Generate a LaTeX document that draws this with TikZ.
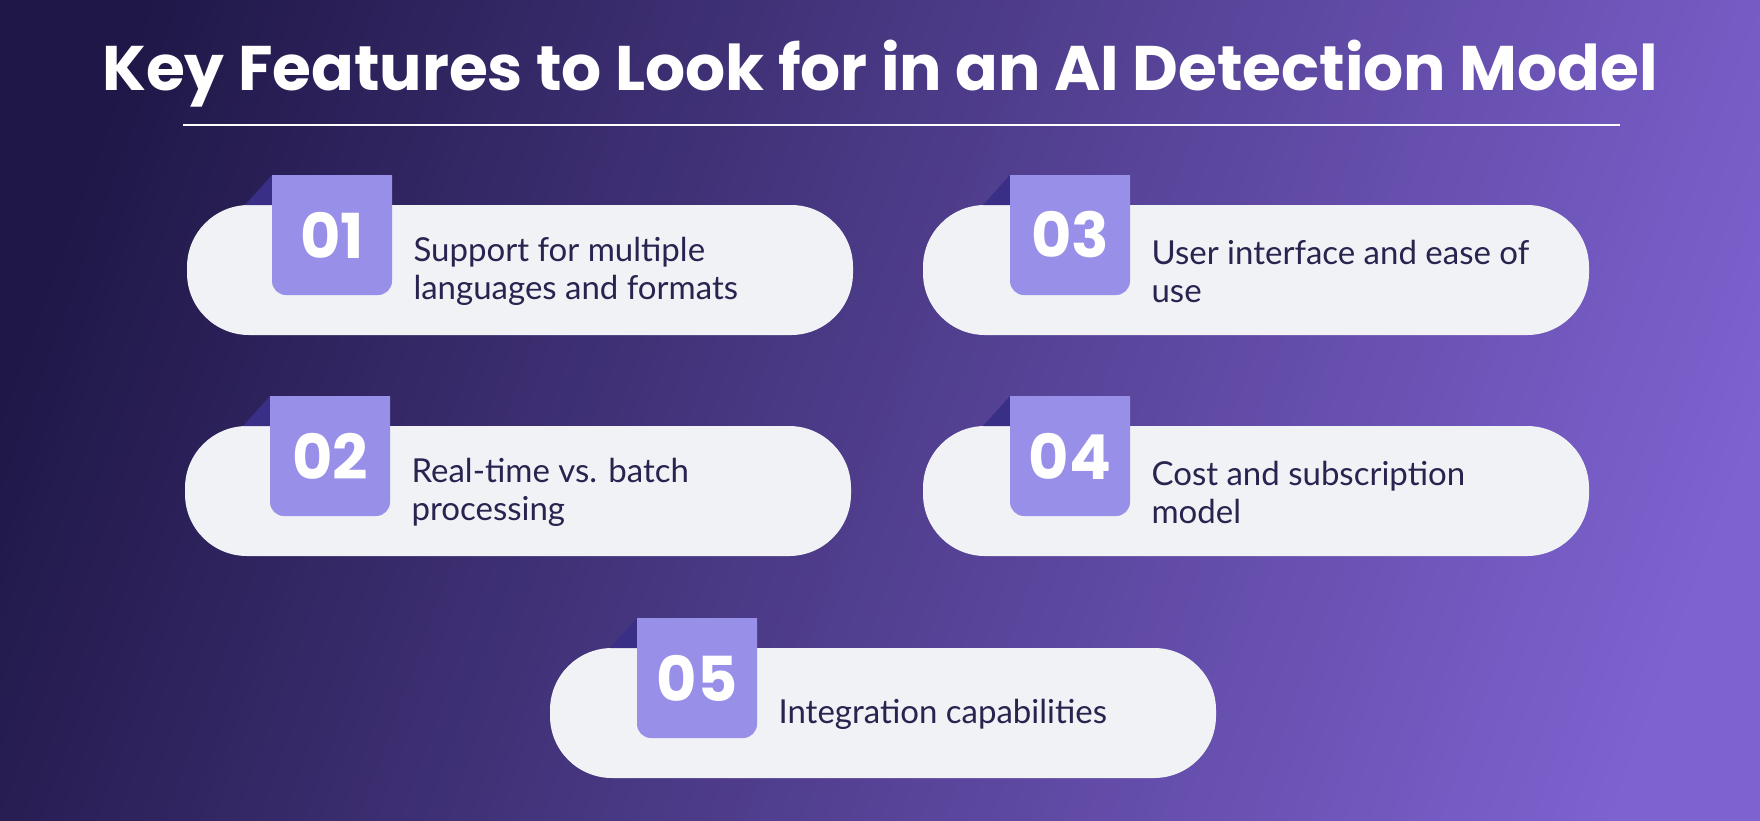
\documentclass[tikz,border=0pt]{standalone}
\usepackage{fontspec}
\setmainfont{Poppins}
\newfontfamily\bodyfont{Lato}
\definecolor{bgA}{HTML}{1F1747}
\definecolor{bgB}{HTML}{7E62D0}
\definecolor{pill}{HTML}{F0F2F6}
\definecolor{badge}{HTML}{988FE8}
\definecolor{fold}{HTML}{3A2F86}
\definecolor{ink}{HTML}{28234F}
\tikzset{
 pillbox/.style={fill=pill,rounded corners=62pt},
 badgebox/.style={fill=badge,rounded corners=14pt},
 foldtri/.style={fill=fold},
 numtxt/.style={text=white,font=\fontsize{62}{62}\selectfont\bfseries},
 bodytxt/.style={text=ink,anchor=west,align=left,font=\bodyfont\fontsize{33}{38}\selectfont}
}
\newcommand{\feature}[6]{% x y (pill topleft) badgex name number text
 \fill[pillbox] (#1,#2) rectangle ++(666,130);
 \fill[foldtri] (#3-27,#2) -- (#3,#2-30) -- (#3,#2) -- cycle;
 \begin{scope}
 \clip (#3,#2-30) rectangle ++(120,200);
 \fill[badgebox] (#3,#2-50) rectangle ++(120,140);
 \end{scope}
 \node[numtxt] (#4n) at (#3+60,#2+30) {#5};
 \node[bodytxt] (#4t) at (#3+138,#2+66) {#6};
}
\begin{document}
\begin{tikzpicture}[x=1pt,y=-1pt]
\useasboundingbox (0,0) rectangle (1760,820);
\begin{scope}
\clip (0,0) rectangle (1760,820);
\shade[left color=bgA,right color=bgB,shading angle=70] (0,-300) rectangle (1760,1120);
\end{scope}
\node[text=white,font=\fontsize{63}{63}\selectfont\bfseries] (title) at (880,74) {Key Features to Look for in an AI Detection Model};
\draw[white,line width=2.5pt] (183,125) -- (1620,125);
\feature{187}{205}{272}{f1}{01}{Support for multiple\\languages and formats}
\feature{923}{205}{1010}{f3}{03}{User interface and ease of\\use}
\feature{185}{426}{270}{f2}{02}{Real-time vs. batch\\processing}
\feature{923}{426}{1010}{f4}{04}{Cost and subscription\\model}
\feature{550}{648}{637}{f5}{05}{Integration capabilities}
\end{tikzpicture}
\end{document}
